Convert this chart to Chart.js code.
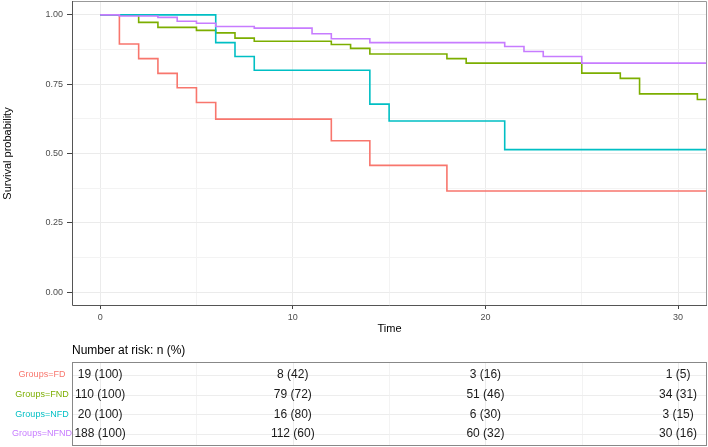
<!DOCTYPE html>
<html>
<head>
<meta charset="utf-8">
<script src="https://cdn.jsdelivr.net/npm/chart.js@4/dist/chart.umd.min.js"></script>
<style>
  html, body { margin: 0; padding: 0; background: #fff; }
  #wrap { width: 708px; height: 447px; }
</style>
</head>
<body>
<div id="wrap"><canvas id="km" width="708" height="447"></canvas></div>
<script>
// survival curves (time, survival probability)
const groups = ['FD', 'FND', 'NFD', 'NFND'];
const groupColors = ['#F8766D', '#7CAE00', '#00BFC4', '#C77CFF'];

const fdTimes = [0, 1, 2, 3, 4, 5, 6, 12, 14, 18, 32];
const fdSurv = [1, 0.895, 0.842, 0.789, 0.737, 0.684, 0.624, 0.546, 0.457, 0.365, 0.365];

const fndTimes = [0, 2, 3, 5, 6, 7, 8, 12, 13, 14, 18, 19, 25, 27, 28, 31, 32];
const fndSurv = [1, 0.973, 0.955, 0.944, 0.935, 0.916, 0.905, 0.893, 0.879, 0.859, 0.842, 0.826, 0.79, 0.771, 0.715, 0.695, 0.695];

const nfdTimes = [0, 6, 7, 8, 14, 15, 21, 32];
const nfdSurv = [1, 0.90, 0.85, 0.80, 0.678, 0.617, 0.514, 0.514];

const nfndTimes = [0, 1, 3, 4, 5, 6, 8, 11, 12, 14, 21, 22, 23, 25, 32];
const nfndSurv = [1, 0.996, 0.991, 0.977, 0.970, 0.958, 0.952, 0.932, 0.914, 0.90, 0.886, 0.868, 0.850, 0.826, 0.826];

// number at risk table
const riskTimes = [0, 10, 20, 30];
const fdRiskN = [19, 8, 3, 1];
const fdRiskPct = [100, 42, 16, 5];
const fndRiskN = [110, 79, 51, 34];
const fndRiskPct = [100, 72, 46, 31];
const nfdRiskN = [20, 16, 6, 3];
const nfdRiskPct = [100, 80, 30, 15];
const nfndRiskN = [188, 112, 60, 30];
const nfndRiskPct = [100, 60, 32, 16];

// axis breaks
const xBreaks = [0, 10, 20, 30];
const yBreaks = [0, 0.25, 0.5, 0.75, 1];

const FONT = 'Arial, "Liberation Sans", sans-serif';

const curveTimes = [fdTimes, fndTimes, nfdTimes, nfndTimes];
const curveSurv = [fdSurv, fndSurv, nfdSurv, nfndSurv];
const riskN = [fdRiskN, fndRiskN, nfdRiskN, nfndRiskN];
const riskPct = [fdRiskPct, fndRiskPct, nfdRiskPct, nfndRiskPct];

function withMinor(breaks) {
    let out = [];
    for (let i = 0; i < breaks.length; i++) {
        out.push({value: breaks[i], isMajor: true});
        if (i < breaks.length - 1) out.push({value: (breaks[i] + breaks[i + 1]) / 2, isMajor: false});
    }
    return out;
}

const datasets = groups.map((g, i) => ({
    label: 'Groups=' + g,
    data: curveTimes[i].map((t, j) => ({x: t, y: curveSurv[i][j]})),
    borderColor: groupColors[i],
    borderWidth: 1.6,
    pointRadius: 0,
    stepped: true,
    fill: false,
    order: groups.length - i
}));

const panelBorder = {
    id: 'panelBorder',
    afterDatasetsDraw(chart) {
        const {ctx, chartArea: a} = chart;
        ctx.save();
        ctx.lineWidth = 1;
        ctx.strokeStyle = '#999';
        ctx.beginPath();
        ctx.moveTo(a.left, a.top + 0.5);
        ctx.lineTo(a.right - 0.5, a.top + 0.5);
        ctx.lineTo(a.right - 0.5, a.bottom);
        ctx.stroke();
        ctx.strokeStyle = '#555';
        ctx.beginPath();
        ctx.moveTo(a.left + 0.5, a.top);
        ctx.lineTo(a.left + 0.5, a.bottom - 0.5);
        ctx.lineTo(a.right, a.bottom - 0.5);
        ctx.stroke();
        ctx.restore();
    }
};

const riskTable = {
    id: 'riskTable',
    afterDraw(chart) {
        const {ctx, chartArea: a} = chart;
        const xs = chart.scales.x;
        const boxTop = 362, boxBottom = 446;
        const rowY = [375, 394.5, 414.2, 434];
        ctx.save();

        // title
        ctx.fillStyle = '#000';
        ctx.font = '12px ' + FONT;
        ctx.textAlign = 'left';
        ctx.textBaseline = 'middle';
        ctx.fillText('Number at risk: n (%)', a.left, 351);

        // faint grid inside table
        ctx.lineWidth = 1;
        withMinor(xBreaks).forEach(tk => {
            const px = Math.round(xs.getPixelForValue(tk.value)) + 0.5;
            ctx.strokeStyle = tk.isMajor ? '#EDEDED' : '#F3F3F3';
            ctx.beginPath();
            ctx.moveTo(px, boxTop);
            ctx.lineTo(px, boxBottom);
            ctx.stroke();
        });
        rowY.forEach(y => {
            ctx.strokeStyle = '#EDEDED';
            ctx.beginPath();
            ctx.moveTo(a.left, Math.round(y) + 0.5);
            ctx.lineTo(a.right, Math.round(y) + 0.5);
            ctx.stroke();
        });

        // box
        ctx.strokeStyle = '#888';
        ctx.strokeRect(a.left + 0.5, boxTop + 0.5, a.right - a.left - 1, boxBottom - boxTop - 1);

        groups.forEach((g, i) => {
            ctx.font = '9px ' + FONT;
            ctx.textAlign = 'center';
            ctx.fillStyle = groupColors[i];
            ctx.fillText('Groups=' + g, 42, rowY[i]);

            ctx.font = '12px ' + FONT;
            ctx.fillStyle = '#1a1a1a';
            riskTimes.forEach((t, j) => {
                ctx.fillText(riskN[i][j] + ' (' + riskPct[i][j] + ')', xs.getPixelForValue(t), rowY[i]);
            });
        });
        ctx.restore();
    }
};

new Chart(document.getElementById('km'), {
    type: 'line',
    data: {datasets: datasets},
    options: {
        responsive: false,
        animation: false,
        devicePixelRatio: 1,
        layout: {padding: {top: 1, right: 1, bottom: 111, left: 0}},
        plugins: {legend: {display: false}, tooltip: {enabled: false}},
        scales: {
            x: {
                type: 'linear',
                min: -1.46,
                max: 31.5,
                afterBuildTicks: (scale) => { scale.ticks = withMinor(xBreaks); },
                afterFit: (scale) => {
                    scale.height = 30;
                    scale.paddingLeft = 0;
                    scale.paddingRight = 0;
                },
                border: {display: false},
                grid: {
                    color: (c) => (c.tick && c.tick.isMajor) ? '#EBEBEB' : '#F3F3F3',
                    lineWidth: 1,
                    tickLength: 3,
                    tickColor: (c) => (c.tick && c.tick.isMajor) ? '#444' : 'rgba(0,0,0,0)'
                },
                ticks: {
                    autoSkip: false,
                    maxRotation: 0,
                    padding: 3,
                    color: '#4D4D4D',
                    font: {family: FONT, size: 9},
                    callback: function (v, idx, ticks) { return ticks[idx].isMajor ? String(v) : ''; }
                },
                title: {
                    display: true,
                    text: 'Time',
                    color: '#000',
                    font: {family: FONT, size: 11},
                    padding: {top: 0, bottom: 0}
                }
            },
            y: {
                type: 'linear',
                min: -0.05,
                max: 1.05,
                afterBuildTicks: (scale) => { scale.ticks = withMinor(yBreaks); },
                afterFit: (scale) => {
                    scale.width = 72;
                    scale.paddingTop = 0;
                    scale.paddingBottom = 0;
                },
                border: {display: false},
                grid: {
                    color: (c) => (c.tick && c.tick.isMajor) ? '#EBEBEB' : '#F3F3F3',
                    lineWidth: 1,
                    tickLength: 5,
                    tickColor: (c) => (c.tick && c.tick.isMajor) ? '#444' : 'rgba(0,0,0,0)'
                },
                ticks: {
                    autoSkip: false,
                    padding: 4,
                    color: '#4D4D4D',
                    font: {family: FONT, size: 9},
                    callback: function (v, idx, ticks) { return ticks[idx].isMajor ? Number(v).toFixed(2) : ''; }
                },
                title: {
                    display: true,
                    text: 'Survival probability',
                    color: '#000',
                    font: {family: FONT, size: 11},
                    padding: {top: 1.5, bottom: 0}
                }
            }
        }
    },
    plugins: [panelBorder, riskTable]
});
</script>
</body>
</html>
